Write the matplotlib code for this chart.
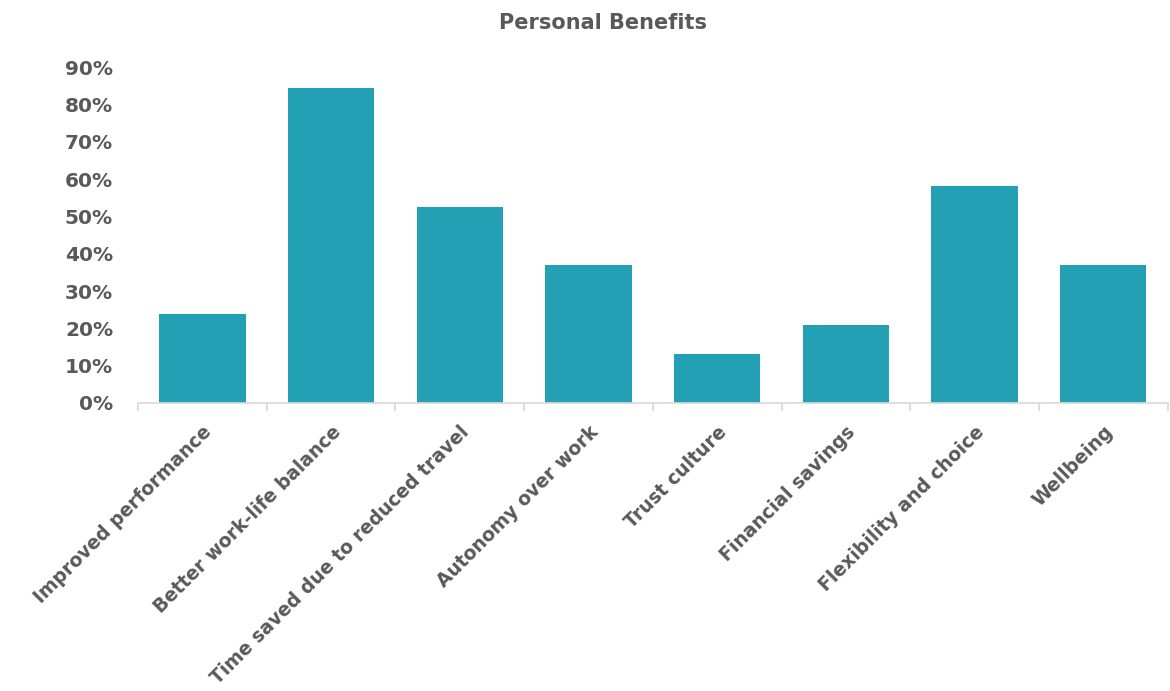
import numpy as np
import matplotlib.pyplot as plt
from matplotlib.ticker import FixedLocator, PercentFormatter

plt.rcParams['font.family'] = ['DejaVu Sans']

# Survey results: share of respondents naming each benefit
categories = ["Improved performance", "Better work-life balance",
              "Time saved due to reduced travel", "Autonomy over work",
              "Trust culture", "Financial savings",
              "Flexibility and choice", "Wellbeing"]
shares = [0.238, 0.845, 0.525, 0.369, 0.130, 0.210, 0.582, 0.369]

bar_color = '#23A0B3'
text_color = '#595959'

fig = plt.figure(figsize=(11.7, 6.91), dpi=100)
ax = fig.add_axes([0.118, 0.4168, 0.880, 0.486])

x = np.arange(len(categories))
ax.bar(x, shares, width=0.67, color=bar_color, zorder=2)

ax.set_xlim(-0.5, len(categories) - 0.5)
ax.set_ylim(0, 0.9)
ax.set_yticks(np.arange(0, 0.91, 0.1))
ax.yaxis.set_major_formatter(PercentFormatter(1.0, decimals=0))

# category labels at bar centres, divider ticks between categories
ax.set_xticks(x)
ax.set_xticklabels(categories, rotation=45, ha='right', rotation_mode='anchor')
ax.xaxis.set_minor_locator(FixedLocator(np.arange(-0.5, len(categories), 1.0)))
ax.tick_params(axis='x', which='major', length=0, pad=14,
               labelsize=13.5, labelcolor=text_color)
ax.tick_params(axis='x', which='minor', length=6, width=1.2, color='#D9D9D9')
ax.tick_params(axis='y', length=0, pad=18, labelsize=14.5, labelcolor=text_color)
for lbl in ax.get_xticklabels() + ax.get_yticklabels():
    lbl.set_fontweight('bold')

for side in ['top', 'right', 'left']:
    ax.spines[side].set_visible(False)
ax.spines['bottom'].set_color('#D9D9D9')
ax.spines['bottom'].set_linewidth(1.2)

fig.text(0.515, 0.966, "Personal Benefits", ha='center', va='center',
         fontsize=15, fontweight='bold', color=text_color)

fig.savefig('out.png', dpi=100, facecolor='white')
